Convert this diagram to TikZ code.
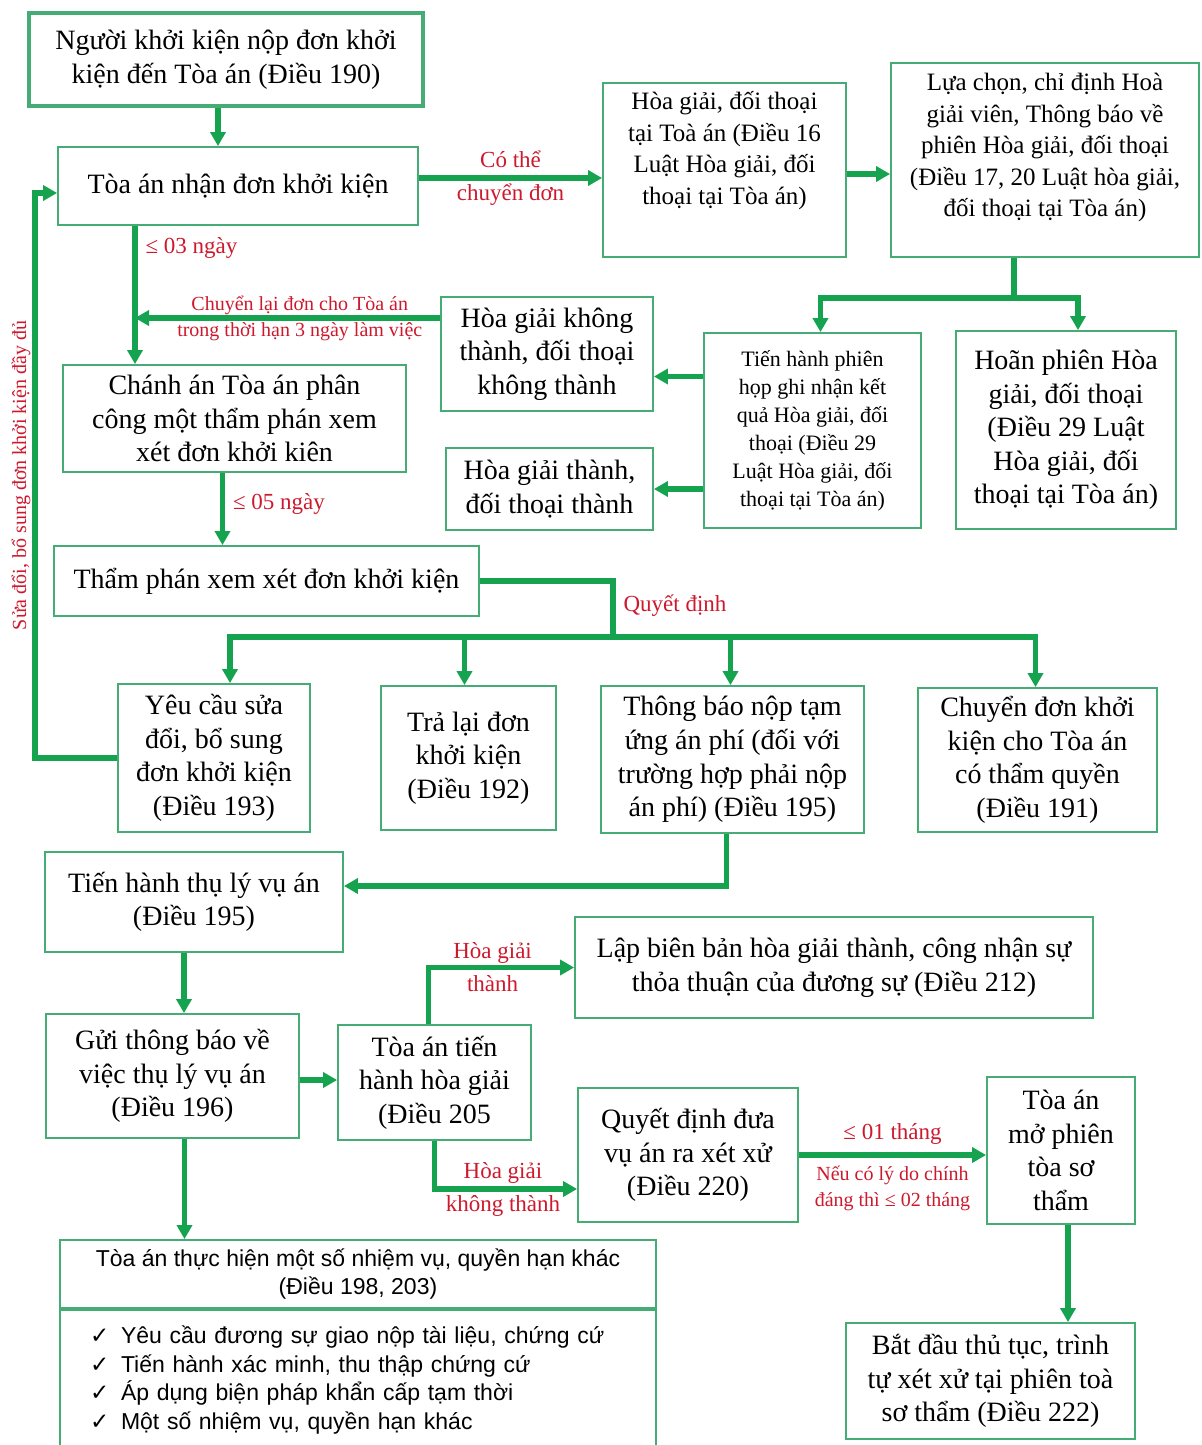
\documentclass[tikz,border=0pt]{standalone}
\usepackage{fontspec}
\setmainfont{Liberation Serif}
\newfontfamily\sansvn{Liberation Sans}
\newfontfamily\symvn{DejaVu Sans}
\usetikzlibrary{arrows.meta,positioning}
\definecolor{linegreen}{RGB}{22,163,80}
\definecolor{boxgreen}{RGB}{70,172,118}
\definecolor{labred}{RGB}{205,25,45}

\begin{document}
\begin{tikzpicture}[x=0.5pt,y=-0.5pt,
    box/.style={draw=boxgreen, line width=0.9pt, align=center, inner sep=2pt,
      font=\fontsize{14}{16.8}\selectfont},
    smallbox/.style={box, font=\fontsize{12.5}{15.8}\selectfont},
    tinybox/.style={box, font=\fontsize{11}{14}\selectfont},
    conn/.style={draw=linegreen, line width=2.6pt},
    arr/.style={conn, -{Triangle[length=7pt,width=7.5pt]}},
    lab/.style={text=labred, align=center, inner sep=1pt,
      font=\fontsize{11.5}{16.5}\selectfont},
    smalllab/.style={lab, font=\fontsize{10}{13}\selectfont}]
  \useasboundingbox (0,0) rectangle (1201,1445);

  % nodes
  \node[box, line width=2pt, minimum width=197pt, minimum height=46.5pt] (top) at (226,59.5)
    {Người khởi kiện nộp đơn khởi\\kiện đến Tòa án (Điều 190)};
  \node[box, minimum width=180pt, minimum height=39pt] (recv) at (238,186)
    {Tòa án nhận đơn khởi kiện};
  \node[smallbox, text depth=22pt, minimum width=121.5pt, minimum height=87pt] (hgdt) at (724.5,170)
    {Hòa giải, đối thoại\\tại Toà án (Điều 16\\Luật Hòa giải, đối\\thoại tại Tòa án)};
  \node[smallbox, text depth=15pt, minimum width=154pt, minimum height=97pt] (chon) at (1045,160)
    {Lựa chọn, chỉ định Hoà\\giải viên, Thông báo về\\phiên Hòa giải, đối thoại\\(Điều 17, 20 Luật hòa giải,\\đối thoại tại Tòa án)};
  \node[tinybox, minimum width=108.5pt, minimum height=97.5pt] (phien) at (812.5,430.5)
    {Tiến hành phiên\\họp ghi nhận kết\\quả Hòa giải, đối\\thoại (Điều 29\\Luật Hòa giải, đối\\thoại tại Tòa án)};
  \node[box, minimum width=110pt, minimum height=99pt] (hoan) at (1066,430)
    {Hoãn phiên Hòa\\giải, đối thoại\\(Điều 29 Luật\\Hòa giải, đối\\thoại tại Tòa án)};
  \node[box, minimum width=106pt, minimum height=57pt] (khong) at (547,354)
    {Hòa giải không\\thành, đối thoại\\không thành};
  \node[box, minimum width=103.5pt, minimum height=41pt] (thanh) at (549.5,489)
    {Hòa giải thành,\\đối thoại thành};
  \node[box, minimum width=171.5pt, minimum height=53.5pt] (chanh) at (234.5,418.5)
    {Chánh án Tòa án phân\\công một thẩm phán xem\\xét đơn khởi kiên};
  \node[box, minimum width=212.5pt, minimum height=35pt] (tpxx) at (266.5,581)
    {Thẩm phán xem xét đơn khởi kiện};
  \node[box, minimum width=96pt, minimum height=74pt] (yeucau) at (214,758)
    {Yêu cầu sửa\\đổi, bổ sung\\đơn khởi kiện\\(Điều 193)};
  \node[box, minimum width=87.5pt, minimum height=72pt] (tralai) at (468.5,758)
    {Trả lại đơn\\khởi kiện\\(Điều 192)};
  \node[box, minimum width=131.5pt, minimum height=73.5pt] (tamung) at (732.5,759.5)
    {Thông báo nộp tạm\\ứng án phí (đối với\\trường hợp phải nộp\\án phí) (Điều 195)};
  \node[box, minimum width=119.5pt, minimum height=72pt] (chuyen) at (1037.5,760)
    {Chuyển đơn khởi\\kiện cho Tòa án\\có thẩm quyền\\(Điều 191)};
  \node[box, minimum width=149pt, minimum height=50pt] (thuly) at (194,902)
    {Tiến hành thụ lý vụ án\\(Điều 195)};
  \node[box, minimum width=126.5pt, minimum height=62pt] (guitb) at (172.5,1076)
    {Gửi thông báo về\\việc thụ lý vụ án\\(Điều 196)};
  \node[box, minimum width=96.5pt, minimum height=57.5pt] (tienhg) at (434.5,1082.5)
    {Tòa án tiến\\hành hòa giải\\(Điều 205};
  \node[box, minimum width=259pt, minimum height=50.5pt] (lapbb) at (834,967.5)
    {Lập biên bản hòa giải thành, công nhận sự\\thỏa thuận của đương sự (Điều 212)};
  \node[box, minimum width=110pt, minimum height=67pt] (qdxx) at (688,1155)
    {Quyết định đưa\\vụ án ra xét xử\\(Điều 220)};
  \node[box, minimum width=74pt, minimum height=73.5pt] (mophien) at (1061,1150.5)
    {Tòa án\\mở phiên\\tòa sơ\\thẩm};
  \node[box, minimum width=144.5pt, minimum height=58pt] (batdau) at (990.5,1381)
    {Bắt đầu thủ tục, trình\\tự xét xử tại phiên toà\\sơ thẩm (Điều 222)};
  \node[box, font=\sansvn\fontsize{11.5}{14}\selectfont, minimum width=298pt, minimum height=34pt] (nvhead) at (358,1274)
    {Tòa án thực hiện một số nhiệm vụ, quyền hạn khác\\(Điều 198, 203)};
  \node[box, font=\sansvn\fontsize{11.5}{14.3}\selectfont, anchor=north, align=left,
      text width=268pt, inner xsep=15pt, inner ysep=8pt] (nvbody) at (nvhead.south)
    {\makebox[15.5pt][l]{\symvn ✓}Yêu cầu đương sự giao nộp tài liệu, chứng cứ\\
     \makebox[15.5pt][l]{\symvn ✓}Tiến hành xác minh, thu thập chứng cứ\\
     \makebox[15.5pt][l]{\symvn ✓}Áp dụng biện pháp khẩn cấp tạm thời\\
     \makebox[15.5pt][l]{\symvn ✓}Một số nhiệm vụ, quyền hạn khác};
  \draw[boxgreen, line width=1.6pt] (nvhead.south west) -- (nvhead.south east);

  \coordinate (split1) at (1014,298);
  \coordinate (split2) at (613,637);
  \coordinate (fb) at (35,0);
  \coordinate (trunk) at ([xshift=-51.5pt]recv.south);

  % connectors
  \draw[arr] ([xshift=-4pt]top.south) -- ([xshift=-4pt]top.south |- recv.north);
  \draw[arr] ([yshift=4pt]recv.east) -- ([yshift=4pt]recv.east -| hgdt.west)
    node[lab, midway] {Có thể\\chuyển đơn};
  \draw[arr] ([yshift=-2pt]hgdt.east) -- ([yshift=-2pt]hgdt.east -| chon.west);
  \draw[conn] (chon.south -| split1) -- (split1);
  \draw[arr] (split1) -| ([xshift=4pt]phien.north);
  \draw[arr] (split1) -| ([xshift=6pt]hoan.north);
  \draw[arr] ([yshift=27pt]phien.west) -- ([yshift=27pt]phien.west -| khong.east);
  \draw[arr] (phien.west |- thanh.east) -- (thanh.east);
  \draw[arr] ([yshift=18pt]khong.west) -- ([yshift=18pt]khong.west -| trunk)
    node[smalllab, pos=0.46] {Chuyển lại đơn cho Tòa án\\trong thời hạn 3 ngày làm việc};
  \draw[arr] (trunk) -- (trunk |- chanh.north)
    node[lab, right=3pt, pos=0.16] {≤ 03 ngày};
  \draw[arr] ([xshift=-6pt]chanh.south) -- ([xshift=-6pt]chanh.south |- tpxx.north)
    node[lab, right=3pt, pos=0.43] {≤ 05 ngày};
  \draw[conn] (tpxx.east) -| (split2)
    node[lab, right=3pt, pos=0.72] {Quyết định};
  \draw[arr] (split2) -| ([xshift=8pt]yeucau.north);
  \draw[arr] (split2) -| ([xshift=-2pt]tralai.north);
  \draw[arr] (split2) -| ([xshift=-1pt]tamung.north);
  \draw[arr] (split2) -| ([xshift=-1pt]chuyen.north);
  \draw[arr] (yeucau.west) -- (yeucau.west -| fb) |- ([yshift=-3.5pt]recv.west)
    node[smalllab, rotate=90, anchor=south, pos=0.25] {Sửa đổi, bổ sung đơn khởi kiện đầy đủ};
  \draw[arr] ([xshift=-3pt]tamung.south) |- ([yshift=8pt]thuly.east);
  \draw[arr] ([xshift=-5pt]thuly.south) -- ([xshift=-5pt]thuly.south |- guitb.north);
  \draw[arr] ([yshift=-2pt]guitb.east) -- ([yshift=-2pt]guitb.east -| tienhg.west);
  \draw[arr] ([xshift=-3pt]tienhg.north) |- (lapbb.west)
    node[lab, pos=0.72] {Hòa giải\\thành};
  \draw[arr] (tienhg.south) |- ([yshift=-17pt]qdxx.west)
    node[lab, pos=0.74] {Hòa giải\\không thành};
  \draw[arr] (qdxx.east) -- (qdxx.east -| mophien.west)
    node[lab, above=3pt, midway] {≤ 01 tháng}
    node[smalllab, below=3pt, midway] {Nếu có lý do chính\\đáng thì ≤ 02 tháng};
  \draw[arr] ([xshift=3.5pt]mophien.south) -- ([xshift=3.5pt]mophien.south |- batdau.north);
  \draw[arr] ([xshift=6pt]guitb.south) -- ([xshift=6pt]guitb.south |- nvhead.north);
\end{tikzpicture}
\end{document}
